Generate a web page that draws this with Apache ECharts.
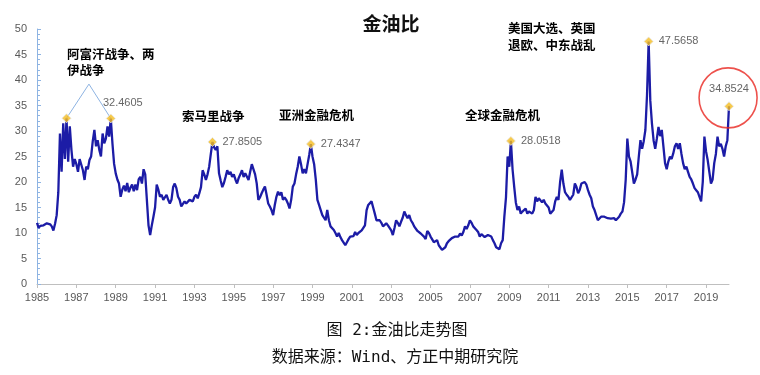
<!DOCTYPE html>
<html>
<head>
<meta charset="utf-8">
<script src="https://cdn.jsdelivr.net/npm/echarts@6/dist/echarts.min.js"></script>
<style>
  html, body { margin: 0; padding: 0; background: #fff; }
  #main { width: 760px; height: 375px; }
</style>
</head>
<body>
<div id="main"></div>
<script>
// 金油比 monthly, Jan 1985 - Mar 2020
const startYear = 1985;
const ratio = [
  12.0, 11.0, 11.4, 11.6, 11.5, 11.8, 11.9, 12.1, 11.7, 11.3, 10.5, 11.8,   // 1985
  13.5, 18.0, 29.5, 22.0, 31.5, 24.5, 32.5, 24.0, 30.9, 26.3, 23.0, 24.5,   // 1986
  23.5, 22.0, 24.5, 24.3, 22.3, 20.4, 23.0, 22.5, 24.3, 25.0, 28.0, 30.2,   // 1987
  27.0, 28.2, 26.3, 25.0, 29.5, 27.6, 28.5, 30.9, 28.9, 32.4605, 27.6, 23.6, // 1988
  21.7, 20.5, 19.7, 17.1, 18.5, 19.3, 18.2, 19.8, 18.0, 18.9, 19.5, 18.2,   // 1989
  19.5, 18.4, 20.5, 21.0, 19.7, 22.5, 21.5, 16.5, 11.5, 9.6, 11.5, 13.2,    // 1990
  15.0, 19.5, 18.5, 17.1, 17.5, 16.5, 16.8, 17.5, 16.5, 15.8, 16.5, 19.0,   // 1991
  19.7, 18.8, 17.1, 16.5, 15.2, 15.5, 16.2, 15.8, 15.8, 16.5, 16.8, 16.2,   // 1992
  17.1, 17.5, 16.8, 17.8, 19.0, 22.3, 21.5, 20.4, 21.5, 23.0, 25.5, 27.8505, // 1993
  26.8, 26.3, 27.0, 21.7, 20.3, 19.0, 19.8, 21.0, 22.3, 21.5, 22.0, 21.0,   // 1994
  21.5, 20.5, 19.7, 20.8, 21.5, 22.3, 21.0, 21.7, 21.5, 20.4, 22.0, 23.5,   // 1995
  23.7, 21.5, 19.7, 16.5, 17.0, 17.8, 18.5, 19.1, 17.5, 15.8, 15.2, 14.5,   // 1996
  13.5, 15.5, 17.1, 18.1, 17.4, 18.0, 16.5, 17.0, 16.5, 15.8, 14.8, 16.5,   // 1997
  19.1, 19.7, 21.5, 23.0, 25.0, 23.5, 21.7, 22.5, 21.7, 23.5, 25.3, 27.4347, // 1998
  25.0, 23.5, 20.5, 16.5, 15.5, 14.5, 13.5, 13.2, 12.5, 14.5, 12.5, 11.3,   // 1999
  11.0, 10.6, 10.0, 9.3, 10.0, 9.2, 8.6, 8.6, 7.6, 8.2, 8.8, 9.3,           // 2000
  9.6, 9.4, 10.2, 9.6, 10.0, 9.9, 10.5, 10.6, 11.5, 14.5, 15.5, 15.8,       // 2001
  16.2, 15.0, 13.8, 12.5, 12.8, 12.5, 12.0, 11.3, 11.6, 11.9, 11.5, 11.3,   // 2002
  10.5, 9.6, 11.0, 12.5, 12.0, 11.3, 12.2, 13.0, 14.2, 13.5, 12.9, 13.5,    // 2003
  12.5, 12.0, 11.3, 11.0, 10.4, 10.5, 9.9, 9.6, 9.3, 8.8, 10.4, 10.0,       // 2004
  9.3, 9.0, 8.2, 8.3, 8.6, 7.6, 7.4, 6.7, 6.5, 7.2, 8.0, 8.4,               // 2005
  8.6, 9.0, 8.7, 9.3, 9.1, 9.3, 9.9, 9.5, 10.2, 11.3, 10.8, 11.5,           // 2006
  12.5, 12.0, 11.3, 11.0, 10.6, 10.2, 9.3, 9.8, 9.6, 9.2, 9.0, 9.6,         // 2007
  9.3, 9.3, 8.6, 8.0, 7.2, 7.0, 6.8, 8.0, 8.6, 13.2, 17.0, 25.0,            // 2008
  23.0, 28.0518, 22.5, 19.1, 16.0, 14.5, 15.2, 13.8, 14.2, 14.5, 14.8, 13.8, // 2009
  14.2, 14.5, 13.8, 14.5, 17.1, 16.2, 16.8, 16.5, 16.0, 16.5, 15.8, 15.5,   // 2010
  15.0, 13.8, 13.9, 14.5, 16.2, 17.1, 16.5, 20.0, 22.4, 19.7, 18.0, 17.5,   // 2011
  17.1, 16.5, 16.8, 17.5, 19.7, 19.0, 17.8, 18.5, 19.7, 19.5, 20.0, 19.5,   // 2012
  18.4, 17.5, 16.8, 15.2, 14.5, 13.5, 12.5, 12.8, 13.2, 13.5, 13.2, 12.9,   // 2013
  12.9, 13.2, 12.8, 13.0, 12.9, 12.5, 12.8, 13.2, 13.8, 14.2, 16.0, 20.4,   // 2014
  28.5, 25.0, 24.0, 23.7, 19.7, 20.5, 21.5, 25.0, 28.2, 26.5, 28.0, 30.2,   // 2015
  37.0, 47.5658, 36.0, 31.5, 28.2, 26.5, 28.5, 30.8, 29.0, 30.2, 27.0, 23.7, // 2016
  22.5, 24.0, 25.0, 24.5, 25.6, 27.0, 27.6, 26.5, 27.6, 25.5, 23.7, 22.5,   // 2017
  23.0, 22.0, 21.0, 20.5, 19.7, 18.8, 18.4, 18.0, 17.1, 16.2, 20.0, 28.9,   // 2018
  26.0, 24.3, 22.0, 19.7, 20.5, 23.7, 25.5, 28.9, 27.0, 27.5, 26.5, 25.0,   // 2019
  27.0, 28.2, 34.8524                                                      // 2020
];

const xTicks = [1985, 1987, 1989, 1991, 1993, 1995, 1997, 1999, 2001, 2003,
                2005, 2007, 2009, 2011, 2013, 2015, 2017, 2019];

// marked points (month) and whether the value is printed
const peakMonths = ['1986-07', '1988-10', '1993-12', '1998-12', '2009-02', '2016-02', '2020-03'];
const peakShowLabel = [false, true, true, true, true, true, true];

const eventTexts = ['阿富汗战争、两\n伊战争', '索马里战争', '亚洲金融危机', '全球金融危机', '美国大选、英国\n退欧、中东战乱'];

const points = ratio.map((v, i) => [startYear + i / 12, v]);
const lastX = points[points.length - 1][0];

function monthIndex(s) {
  const [y, m] = s.split('-').map(Number);
  return (y - startYear) * 12 + m - 1;
}

// label placement for a couple of points
const labelPlace = {
  '1988-10': { position: 'top', offset: [12, 0] },
  '2020-03': { position: 'top', offset: [0, -2] }
};

const peakData = peakMonths.map((m, i) => {
  const p = points[monthIndex(m)];
  const place = labelPlace[m] || { position: 'right', offset: [0, 0] };
  return {
    value: p,
    label: { show: peakShowLabel[i], position: place.position, offset: place.offset, distance: 5 }
  };
});

const chart = echarts.init(document.getElementById('main'));

const cjk = "'Noto Sans CJK SC', sans-serif";

const option = {
  animation: false,
  title: [
    {
      text: '金油比',
      left: 386, top: 9, textAlign: 'center',
      textStyle: { fontFamily: cjk, fontSize: 19, fontWeight: 'bold', color: '#111' }
    },
    {
      text: '图 2:金油比走势图',
      left: 392, top: 318, textAlign: 'center',
      textStyle: { fontFamily: "'DejaVu Sans Mono', 'Noto Sans CJK SC'", fontSize: 16, fontWeight: 'normal', color: '#111' }
    },
    {
      text: '数据来源：Wind、方正中期研究院',
      left: 390, top: 345, textAlign: 'center',
      textStyle: { fontFamily: "'DejaVu Sans Mono', 'Noto Sans CJK SC'", fontSize: 16, fontWeight: 'normal', color: '#111' }
    }
  ],
  grid: { left: 37, right: 31, top: 29, bottom: 91 },
  xAxis: {
    type: 'value',
    min: startYear,
    max: lastX,
    splitLine: { show: false },
    axisLine: { lineStyle: { color: '#bfbfbf' } },
    axisTick: { show: true, length: 4, customValues: xTicks, lineStyle: { color: '#bfbfbf' } },
    axisLabel: {
      customValues: xTicks,
      color: '#595959', fontSize: 11, margin: 8,
      fontFamily: "'Liberation Sans', sans-serif",
      formatter: v => String(v)
    }
  },
  yAxis: {
    type: 'value',
    min: 0, max: 50, interval: 5,
    splitLine: { show: false },
    axisLine: { show: true, lineStyle: { color: '#8eb4e3' } },
    axisTick: { show: true, inside: true, length: 4, lineStyle: { color: '#8eb4e3' } },
    minorTick: { show: true, splitNumber: 5, length: 3, lineStyle: { color: '#8eb4e3' } },
    axisLabel: {
      color: '#595959', fontSize: 11, margin: 10,
      fontFamily: "'Liberation Sans', sans-serif"
    }
  },
  series: [
    {
      name: '金油比',
      type: 'line',
      data: points,
      showSymbol: false,
      lineStyle: { color: '#1c1ca6', width: 2.3 },
      itemStyle: { color: '#1c1ca6' },
      z: 2
    },
    {
      name: 'peaks',
      type: 'scatter',
      data: peakData,
      symbol: 'diamond',
      symbolSize: 9,
      itemStyle: { color: '#f5bd1f', borderColor: '#e6e6e6', borderWidth: 1 },
      label: {
        color: '#404040', fontSize: 11,
        fontFamily: "'Liberation Sans', sans-serif",
        formatter: p => p.value[1].toFixed(4)
      },
      markLine: {
        silent: true,
        symbol: ['none', 'none'],
        label: { show: false },
        lineStyle: { color: '#8db3e2', width: 1, type: 'solid' },
        data: [
          [{ coord: [1987.64, 39.2] }, { coord: points[monthIndex(peakMonths[0])] }],
          [{ coord: [1987.64, 39.2] }, { coord: points[monthIndex(peakMonths[1])] }]
        ]
      },
      z: 5
    },
    {
      name: 'circle',
      type: 'scatter',
      clip: false,
      silent: true,
      data: [[2020.12, 36.5]],
      symbol: 'circle',
      symbolSize: [58, 60],
      itemStyle: { color: 'rgba(0,0,0,0)', borderColor: '#e8251f', borderWidth: 1.6 },
      z: 4
    }
  ],
  graphic: [
    { type: 'text', left: 67, top: 46, style: { text: eventTexts[0], font: "bold 12.5px 'Noto Sans CJK SC'", lineHeight: 16, fill: '#000' } },
    { type: 'text', left: 182, top: 110, style: { text: eventTexts[1], font: "bold 12.5px 'Noto Sans CJK SC'", fill: '#000' } },
    { type: 'text', left: 279, top: 109, style: { text: eventTexts[2], font: "bold 12.5px 'Noto Sans CJK SC'", fill: '#000' } },
    { type: 'text', left: 465, top: 109, style: { text: eventTexts[3], font: "bold 12.5px 'Noto Sans CJK SC'", fill: '#000' } },
    { type: 'text', left: 508, top: 20, style: { text: eventTexts[4], font: "bold 12.5px 'Noto Sans CJK SC'", lineHeight: 17, fill: '#000' } }
  ]
};

chart.setOption(option);
</script>
</body>
</html>
